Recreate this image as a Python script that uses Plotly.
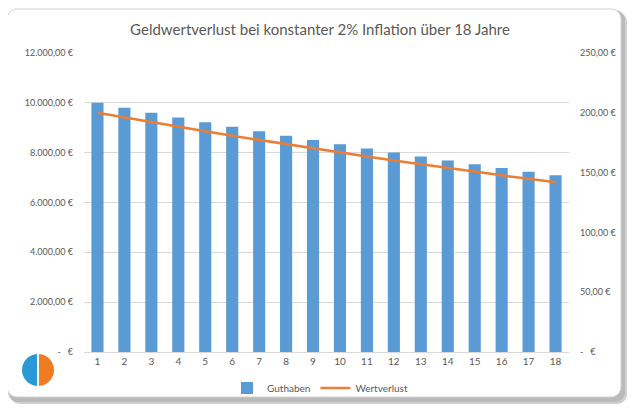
import math
import plotly.graph_objects as go

# ---- data ----
jahre = [str(i) for i in range(1, 19)]
guthaben = [10000, 9800, 9604, 9412, 9224, 9039, 8858, 8681, 8508,
            8337, 8171, 8007, 7847, 7690, 7536, 7386, 7238, 7093]
wertverlust = [200.0, 196.0, 192.1, 188.2, 184.5, 180.8, 177.2, 173.6, 170.2,
               166.7, 163.4, 160.1, 156.9, 153.8, 150.7, 147.7, 144.8, 141.9]
left_ticks = [0, 2000, 4000, 6000, 8000, 10000, 12000]
left_labels = ["-   €", "2.000,00 €", "4.000,00 €", "6.000,00 €", "8.000,00 €",
               "10.000,00 €", "12.000,00 €"]
right_ticks = [0, 50, 100, 150, 200, 250]
right_labels = ["-   €", "50,00 €", "100,00 €", "150,00 €", "200,00 €", "250,00 €"]

OFF = 8  # page body margin
W, H = 640 - OFF, 417 - OFF
# plot area in window pixels: x 84..569, y 53..352
L, R, T, B = 84 - OFF, 640 - 569, 53 - OFF, 417 - 352
PW, PH = W - L - R, H - T - B

def px(x):
    return (x - OFF - L) / PW

def py(y):
    return (H - B - (y - OFF)) / PH

def rounded_rect(x0, y0, x1, y1, r):
    pts = []
    corners = [(x1 - r, y0 + r, -90, 0), (x1 - r, y1 - r, 0, 90),
               (x0 + r, y1 - r, 90, 180), (x0 + r, y0 + r, 180, 270)]
    for cx, cy, a0, a1 in corners:
        for k in range(7):
            a = math.radians(a0 + (a1 - a0) * k / 6)
            pts.append((cx + r * math.cos(a), cy + r * math.sin(a)))
    return "M " + " L ".join(f"{px(x):.5f},{py(y):.5f}" for x, y in pts) + " Z"

def half_circle(cx, cy, r, a0, a1):
    pts = [(cx, cy)]
    for k in range(25):
        a = math.radians(a0 + (a1 - a0) * k / 24)
        pts.append((cx + r * math.cos(a), cy + r * math.sin(a)))
    return "M " + " L ".join(f"{px(x):.5f},{py(y):.5f}" for x, y in pts) + " Z"

font = "Lato, 'Open Sans', sans-serif"
grey = "#595959"

fig = go.Figure()
fig.add_trace(go.Bar(x=jahre, y=guthaben, name="Guthaben",
                     marker=dict(color="#5b9bd5", line=dict(width=0)),
                     width=0.45, yaxis="y"))
fig.add_trace(go.Scatter(x=jahre, y=wertverlust, name="Wertverlust", mode="lines",
                         line=dict(color="#ed7d31", width=2.5), yaxis="y2"))

shapes = [
    dict(type="path", path=rounded_rect(10, 12, 627, 404, 10), xref="paper", yref="paper",
         fillcolor="#a0a0a0", line=dict(width=0), layer="below", opacity=0.5),
    dict(type="path", path=rounded_rect(8, 10, 625, 402, 10), xref="paper", yref="paper",
         fillcolor="#b0b0b0", line=dict(width=0), layer="below", opacity=0.7),
    dict(type="path", path=rounded_rect(7, 9, 621, 397, 10), xref="paper", yref="paper",
         fillcolor="white", line=dict(color="#d0d0d0", width=1), layer="below"),
    dict(type="path", path=half_circle(38, 370, 16, 90, 270), xref="paper", yref="paper",
         fillcolor="#2a9ad6", line=dict(width=0)),
    dict(type="path", path=half_circle(38, 370, 16, -90, 90), xref="paper", yref="paper",
         fillcolor="#f07c22", line=dict(width=0)),
    dict(type="line", x0=px(38), x1=px(38), y0=py(354), y1=py(386), xref="paper", yref="paper",
         line=dict(color="white", width=2)),
]

fig.update_layout(
    width=W, height=H,
    margin=dict(l=L, r=R, t=T, b=B),
    paper_bgcolor="white", plot_bgcolor="rgba(0,0,0,0)",
    title=dict(text="Geldwertverlust bei konstanter 2% Inflation über 18 Jahre",
               x=px(320), xanchor="center", xref="paper",
               y=1 - (30 - OFF) / H, yanchor="middle",
               font=dict(family=font, size=15, color=grey)),
    font=dict(family=font, size=10, color=grey),
    xaxis=dict(showgrid=False, showline=True, linecolor="#d9d9d9", ticks="",
               tickfont=dict(size=10, color=grey)),
    yaxis=dict(range=[0, 12000], tickvals=left_ticks, ticktext=left_labels,
               showgrid=True, gridcolor="#d9d9d9", gridwidth=1, zeroline=False,
               tickfont=dict(size=9, color=grey), ticklabelstandoff=10),
    yaxis2=dict(range=[0, 250], tickvals=right_ticks, ticktext=right_labels,
                overlaying="y", side="right", showgrid=False, zeroline=False,
                tickfont=dict(size=9, color=grey), ticklabelstandoff=10),
    legend=dict(orientation="h", x=px(320), xanchor="center", xref="paper",
                y=py(388), yanchor="middle", font=dict(size=10, color=grey),
                bgcolor="rgba(0,0,0,0)"),
    shapes=shapes,
    showlegend=True,
)

fig.write_html("out.html")
